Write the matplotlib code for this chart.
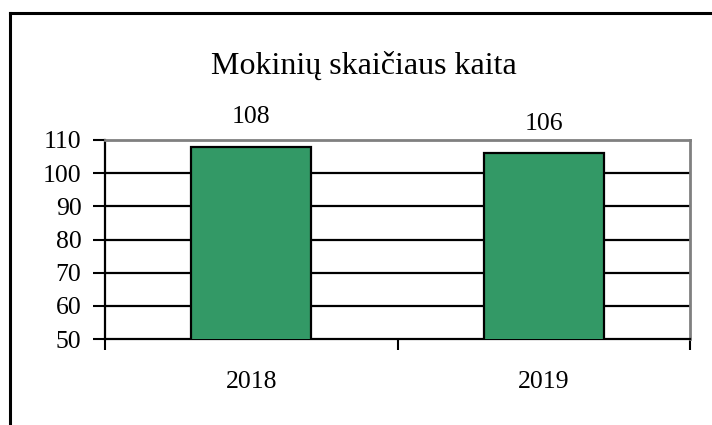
import matplotlib.pyplot as plt
from matplotlib.lines import Line2D

years = ["2018", "2019"]
students = [108, 106]
y_ticks = [50, 60, 70, 80, 90, 100, 110]

plt.rcParams['font.family'] = ['Liberation Serif', 'DejaVu Serif']

fig = plt.figure(figsize=(7.12, 4.25), dpi=100)
ax = fig.add_axes([105 / 712, 1 - 339 / 425, (690 - 105) / 712, (339 - 140) / 425])

# outer chart frame (only left and top edges are visible)
fig.add_artist(Line2D([9.5 / 712, 9.5 / 712], [0, 1 - 12.7 / 425], transform=fig.transFigure,
                      color='black', lw=2.2))
fig.add_artist(Line2D([9.5 / 712, 1.0], [1 - 12.7 / 425, 1 - 12.7 / 425], transform=fig.transFigure,
                      color='black', lw=2.2))

x = range(len(years))
ax.bar(x, students, width=0.41, color='#339966', edgecolor='black', linewidth=1.6, zorder=3)

ax.set_xlim(-0.5, 1.5)
ax.set_ylim(50, 110)
ax.set_yticks(y_ticks)
ax.set_xticks(list(x))
ax.set_xticklabels(years)
ax.set_xticks([-0.5, 0.5, 1.5], minor=True)

for yv in y_ticks[1:-1]:
    ax.axhline(yv, color='black', lw=1.6, zorder=1)

for i, v in enumerate(students):
    ax.annotate(str(v), (i, v), xytext=(0, 21), textcoords='offset points',
                ha='center', va='center', fontsize=18.5)

ax.tick_params(axis='y', direction='out', length=9, width=1.5, pad=8, labelsize=18.5)
ax.tick_params(axis='x', which='major', length=0, pad=23, labelsize=18.5)
ax.tick_params(axis='x', which='minor', direction='out', length=8, width=1.5)

for side in ['left', 'bottom']:
    ax.spines[side].set_color('black')
    ax.spines[side].set_linewidth(1.6)
for side in ['top', 'right']:
    ax.spines[side].set_color('#808080')
    ax.spines[side].set_linewidth(2)

fig.text(364 / 712, 1 - 66 / 425, "Mokinių skaičiaus kaita", ha='center', va='center', fontsize=23)

fig.savefig('out.png', dpi=100)
